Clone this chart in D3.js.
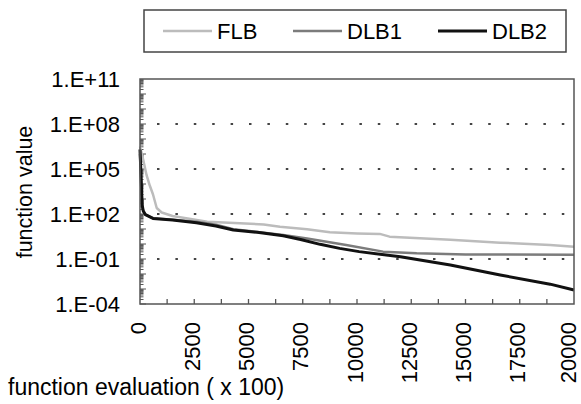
<!DOCTYPE html>
<html>
<head>
<meta charset="utf-8">
<script src="https://cdn.jsdelivr.net/npm/d3@7"></script>
<style>
    body { margin: 0; background: #fff; }
    svg { font-family: "Liberation Sans", Arial, sans-serif; }
</style>
</head>
<body>
<svg id="chart"></svg>
<script>
// series (x = function evaluations x100, y = function value)
const seriesNames = ["FLB", "DLB1", "DLB2"];
const seriesColors = ["#bcbcbc", "#7c7c7c", "#111111"];
const seriesWidths = [2.5, 2.5, 3];

const flbEvals  = [0, 150, 300, 450, 600, 770, 1000, 1500, 3100, 4600, 5700, 6450, 7700, 8750, 10000, 11050, 11500, 14300, 16600, 18900, 20000];
const flbValues = [3.2e6, 4.0e5, 4.0e4, 7.9e3, 2.0e3, 250, 126, 74, 31, 24, 20, 14, 9.5, 6.0, 5.1, 4.7, 3.1, 1.9, 1.23, 0.85, 0.66];

const dlb1Evals  = [0, 100, 150, 250, 600, 1500, 2600, 3500, 4300, 5400, 6600, 7700, 8600, 9500, 11200, 12750, 15000, 20000];
const dlb1Values = [1.0e6, 320, 160, 90, 52, 42, 30, 19, 9.5, 6.3, 4.0, 2.3, 1.4, 0.85, 0.31, 0.24, 0.2, 0.19];

const dlb2Evals  = [0, 100, 150, 250, 600, 1500, 2600, 3500, 4300, 5400, 6600, 7400, 8300, 9200, 10100, 12000, 14300, 16600, 18900, 20000];
const dlb2Values = [2.0e6, 400, 160, 90, 51, 40, 26, 16, 8.5, 6.0, 3.5, 2.0, 0.95, 0.51, 0.31, 0.14, 0.04, 0.0085, 0.0021, 0.00085];

const xTickLabels = [0, 2500, 5000, 7500, 10000, 12500, 15000, 17500, 20000];
const xMinorStep = 1250;
const yTickLabels = [1e11, 1e8, 1e5, 1e2, 1e-1, 1e-4];
const yGridValues = [1e8, 1e5, 1e2, 1e-1];

class ConvergencePlot {
    margin = { top: 79, right: 7, bottom: 100, left: 140 }

    constructor(svg_id, width = 434, height = 225) {
        this.svg_id = svg_id;
        this.width = width;
        this.height = height;
    }

    initialize() {
        this.svg = d3.select(this.svg_id)
            .attr("width", 581)
            .attr("height", 404);

        this.container = this.svg.append("g")
            .attr("transform", `translate(${this.margin.left}, ${this.margin.top})`);

        this.xScale = d3.scaleLinear().domain([0, 20000]).range([0, this.width]);
        this.yScale = d3.scaleLog().domain([1e-4, 1e11]).range([this.height, 0]);
    }

    yFormat(v) {
        const e = Math.round(Math.log10(v));
        return "1.E" + (e < 0 ? "-" : "+") + String(Math.abs(e)).padStart(2, "0");
    }

    update(series) {
        const x = this.xScale, y = this.yScale, g = this.container;

        // dotted gridlines
        g.selectAll(".grid")
            .data(yGridValues)
            .join("line")
            .attr("class", "grid")
            .attr("x1", 17).attr("x2", 428)
            .attr("y1", d => y(d)).attr("y2", d => y(d))
            .style("stroke", "#444")
            .style("stroke-width", 2)
            .style("stroke-dasharray", "2.5,15.9");

        // minor log ticks on the left, pointing inward
        const yMinor = [];
        for (let n = -4; n < 11; n++) {
            for (let k = 1; k < 10; k++) yMinor.push(k * Math.pow(10, n));
        }
        g.selectAll(".ytick")
            .data(yMinor)
            .join("line")
            .attr("class", "ytick")
            .attr("x1", 0)
            .attr("x2", (d, i) => i % 9 === 0 ? 6 : 3.5)
            .attr("y1", d => y(d)).attr("y2", d => y(d))
            .style("stroke", "#555")
            .style("stroke-width", 1);

        // x ticks every 1250, pointing inward
        g.selectAll(".xtick")
            .data(d3.range(xMinorStep, 20000, xMinorStep))
            .join("line")
            .attr("class", "xtick")
            .attr("x1", d => x(d)).attr("x2", d => x(d))
            .attr("y1", this.height).attr("y2", this.height - 5)
            .style("stroke", "#555")
            .style("stroke-width", 1.3);

        const line = d3.line()
            .x(d => x(d[0]))
            .y(d => y(d[1]));

        g.selectAll(".series")
            .data(series)
            .join("path")
            .attr("class", "series")
            .attr("d", d => line(d.points))
            .style("fill", "none")
            .style("stroke", d => d.color)
            .style("stroke-width", d => d.width)
            .style("stroke-linejoin", "round");

        // frame
        g.append("rect")
            .attr("width", this.width)
            .attr("height", this.height)
            .style("fill", "none")
            .style("stroke", "#555")
            .style("stroke-width", 1.5);

        // y labels
        g.selectAll(".ylabel")
            .data(yTickLabels)
            .join("text")
            .attr("class", "ylabel")
            .attr("x", -20)
            .attr("y", d => y(d))
            .attr("dy", "0.35em")
            .attr("text-anchor", "end")
            .style("font-size", "22px")
            .text(d => this.yFormat(d));

        // x labels, rotated; the last one is nudged so it stays inside the page
        const lastX = xTickLabels.length - 1;
        g.selectAll(".xlabel")
            .data(xTickLabels)
            .join("text")
            .attr("class", "xlabel")
            .attr("transform", d => `translate(${x(d)}, ${this.height + 18}) rotate(-90)`)
            .attr("dy", (d, i) => i === lastX ? "0.1em" : "0.26em")
            .attr("text-anchor", "end")
            .style("font-size", "22px")
            .text(d => d);

        this.svg.append("text")
            .attr("x", 8)
            .attr("y", 395)
            .style("font-size", "23px")
            .text("function evaluation ( x 100)");

        this.svg.append("text")
            .attr("transform", "translate(32, 192) rotate(-90)")
            .attr("text-anchor", "middle")
            .style("font-size", "21.5px")
            .text("function value");

        // legend
        const legend = this.svg.append("g");
        legend.append("rect")
            .attr("x", 144).attr("y", 10)
            .attr("width", 422).attr("height", 42)
            .style("fill", "none")
            .style("stroke", "#444")
            .style("stroke-width", 1.5);

        const legendX = [163, 293, 438];
        const items = legend.selectAll(".item")
            .data(series)
            .join("g")
            .attr("class", "item")
            .attr("transform", (d, i) => `translate(${legendX[i]}, 31)`);
        items.append("line")
            .attr("x1", 0).attr("x2", 49)
            .style("stroke", d => d.color)
            .style("stroke-width", d => d.width);
        items.append("text")
            .attr("x", 54)
            .attr("y", 8)
            .style("font-size", "22px")
            .text(d => d.name);
    }
}

const series = [
    { name: seriesNames[0], color: seriesColors[0], width: seriesWidths[0], points: d3.zip(flbEvals, flbValues) },
    { name: seriesNames[1], color: seriesColors[1], width: seriesWidths[1], points: d3.zip(dlb1Evals, dlb1Values) },
    { name: seriesNames[2], color: seriesColors[2], width: seriesWidths[2], points: d3.zip(dlb2Evals, dlb2Values) }
];

const plot = new ConvergencePlot("#chart");
plot.initialize();
plot.update(series);
</script>
</body>
</html>
